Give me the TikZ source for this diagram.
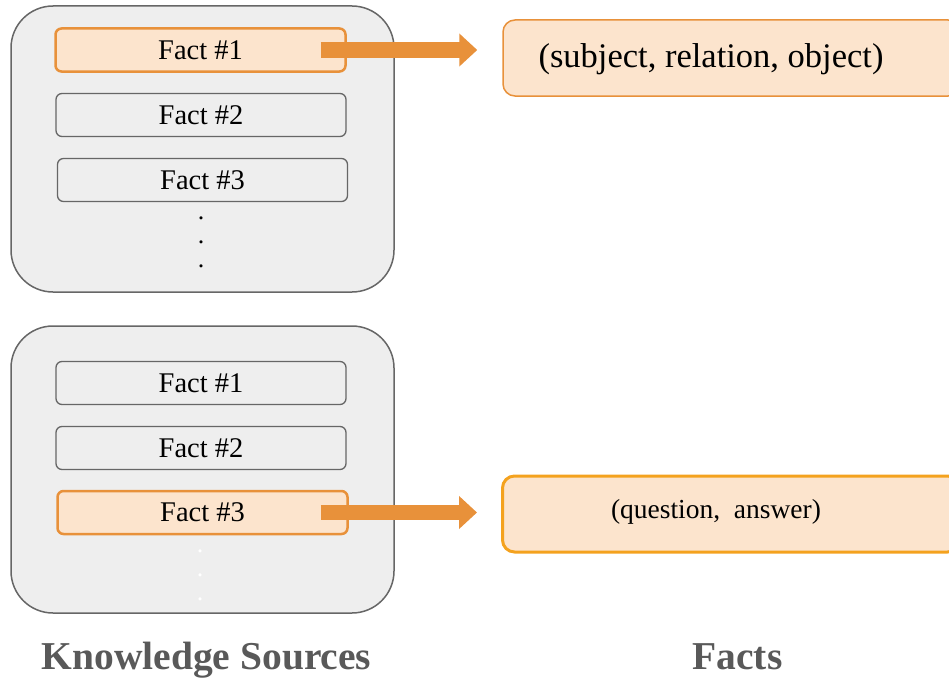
\documentclass[tikz,border=0pt]{standalone}
\usepackage{fontspec}
\setmainfont{Liberation Serif}
\usetikzlibrary{arrows.meta}
\definecolor{srcfill}{HTML}{EEEEEE}
\definecolor{srcline}{HTML}{666666}
\definecolor{orline}{HTML}{E8913A}
\definecolor{orfill}{HTML}{FCE4CD}
\definecolor{orbright}{HTML}{F4A21E}
\definecolor{labgray}{HTML}{595959}
\tikzset{
  srcbox/.style={draw=srcline, fill=srcfill, line width=1.5pt, rounded corners=42pt, minimum width=383pt, minimum height=286pt, inner sep=0pt},
  factbox/.style={draw=srcline, fill=srcfill, line width=1.3pt, rounded corners=6pt, minimum width=290pt, minimum height=43pt, inner sep=0pt, font=\fontsize{28.5}{32}\selectfont},
  facthi/.style={factbox, draw=orline, fill=orfill, line width=2.5pt},
  outbox/.style={draw=orline, fill=orfill, line width=1.5pt, rounded corners=12pt, minimum width=457pt, minimum height=76pt, inner sep=0pt},
  bigarrow/.style={draw=orline, line width=15pt, -{Triangle[length=18pt,width=32pt]}},
  dotmark/.style={font=\fontsize{26}{26}\selectfont, inner sep=0pt},
  caption/.style={text=labgray, font=\fontsize{39.5}{42}\selectfont\bfseries, inner sep=0pt, anchor=base}
}
\begin{document}
\begin{tikzpicture}[x=1pt,y=-1pt]
\useasboundingbox (0,0) rectangle (949,677);
\begin{scope}
\clip (0,0) rectangle (949,677);
% top source
\node[srcbox] (srcA) at (202.5,149) {};
\node[facthi] (a1) at (200.5,50) {Fact \#1};
\node[factbox] (a2) at (201,115) {Fact \#2};
\node[factbox] (a3) at (202.5,180) {Fact \#3};
\node[dotmark] (ad1) at (201,218) {.};
\node[dotmark] (ad2) at (201,242) {.};
\node[dotmark] (ad3) at (201,266) {.};
% bottom source
\node[srcbox, minimum height=287pt] (srcB) at (202.5,469.5) {};
\node[factbox] (b1) at (201,383) {Fact \#1};
\node[factbox] (b2) at (201,448) {Fact \#2};
\node[facthi] (b3) at (202.5,512.5) {Fact \#3};
\node[dotmark, text=white] (bd1) at (200,551) {.};
\node[dotmark, text=white] (bd2) at (200,575) {.};
\node[dotmark, text=white] (bd3) at (200,599) {.};
% outputs
\node[outbox] (rel) at (731.5,58) {};
\node[font=\fontsize{34.5}{38}\selectfont] (relt) at (711,59) {(subject, relation, object)};
\node[outbox, draw=orbright, line width=3pt] (qa) at (731,514) {};
\node[font=\fontsize{27.5}{30}\selectfont] (qat) at (716,512) {(question,\ \ answer)};
% arrows
\draw[bigarrow] ([xshift=-26pt]a1.east) -- ([xshift=-25pt]rel.west |- a1.east);
\draw[bigarrow] ([xshift=-28pt]b3.east) -- ([xshift=-24pt]qa.west |- b3.east);
% captions
\node[caption] (capA) at (206.5,669) {Knowledge Sources};
\node[caption] (capB) at (737.5,669) {Facts};
\end{scope}
\end{tikzpicture}
\end{document}
